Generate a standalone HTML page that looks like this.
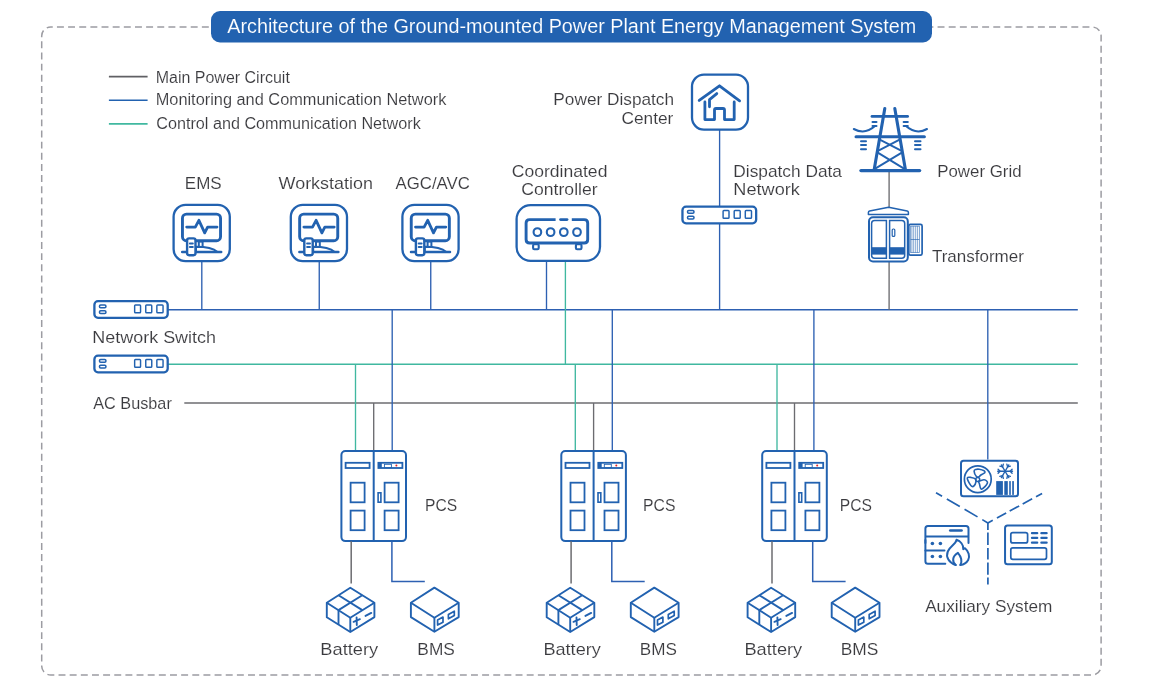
<!DOCTYPE html>
<html><head><meta charset="utf-8">
<style>
html,body{margin:0;padding:0;background:#fff;}
body{width:1169px;height:693px;overflow:hidden;}
svg{display:block;font-family:"Liberation Sans", sans-serif;will-change:transform;}
</style></head>
<body>
<svg width="1169" height="693" viewBox="0 0 1169 693">
<rect x="41.7" y="27" width="1059.4" height="648" rx="9" fill="none" stroke="#9c9ca2" stroke-width="1.5" stroke-dasharray="6.95 4.197" stroke-dashoffset="4.9"/>
<rect x="211" y="11" width="721" height="31.5" rx="9" fill="#2262b0"/>
<text class="t" x="227.25" y="32.80" font-size="20" fill="#ffffff" stroke="#2262b0" stroke-width="0.12" textLength="689.00" lengthAdjust="spacingAndGlyphs">Architecture of the Ground-mounted Power Plant Energy Management System</text>
<line x1="108.9" y1="76.6" x2="147.6" y2="76.6" stroke="#606064" stroke-width="1.6"/>
<line x1="108.9" y1="100.3" x2="147.6" y2="100.3" stroke="#2262b0" stroke-width="1.6"/>
<line x1="108.9" y1="123.9" x2="147.6" y2="123.9" stroke="#40b8a0" stroke-width="1.8"/>
<text class="t" x="155.70" y="82.70" font-size="15.8" fill="#3a3a3e" stroke="#ffffff" stroke-width="0.12" textLength="134.15" lengthAdjust="spacingAndGlyphs">Main Power Circuit</text>
<text class="t" x="155.70" y="105.10" font-size="15.8" fill="#3a3a3e" stroke="#ffffff" stroke-width="0.12" textLength="290.65" lengthAdjust="spacingAndGlyphs">Monitoring and Communication Network</text>
<text class="t" x="156.20" y="128.80" font-size="15.8" fill="#3a3a3e" stroke="#ffffff" stroke-width="0.12" textLength="264.60" lengthAdjust="spacingAndGlyphs">Control and Communication Network</text>
<line x1="168" y1="309.75" x2="1077.8" y2="309.75" stroke="#2d60b2" stroke-width="1.35"/>
<line x1="168" y1="364.2" x2="1077.8" y2="364.2" stroke="#40b8a0" stroke-width="1.35"/>
<line x1="184.3" y1="403.0" x2="1077.8" y2="403.0" stroke="#6c6c70" stroke-width="1.35"/>
<line x1="565.4" y1="261.7" x2="565.4" y2="364.2" stroke="#40b8a0" stroke-width="1.35"/>
<line x1="355.5" y1="364.2" x2="355.5" y2="450.5" stroke="#40b8a0" stroke-width="1.35"/>
<line x1="575.3" y1="364.2" x2="575.3" y2="450.5" stroke="#40b8a0" stroke-width="1.35"/>
<line x1="777" y1="364.2" x2="777" y2="450.5" stroke="#40b8a0" stroke-width="1.35"/>
<line x1="373.7" y1="403.0" x2="373.7" y2="450.5" stroke="#6c6c70" stroke-width="1.35"/>
<line x1="593.6" y1="403.0" x2="593.6" y2="450.5" stroke="#6c6c70" stroke-width="1.35"/>
<line x1="794.5" y1="403.0" x2="794.5" y2="450.5" stroke="#6c6c70" stroke-width="1.35"/>
<line x1="889.1" y1="170.7" x2="889.1" y2="207.5" stroke="#6c6c70" stroke-width="1.35"/>
<line x1="889.1" y1="262" x2="889.1" y2="309.75" stroke="#6c6c70" stroke-width="1.35"/>
<line x1="201.8" y1="261.5" x2="201.8" y2="309.75" stroke="#2d60b2" stroke-width="1.35"/>
<line x1="319.25" y1="261.5" x2="319.25" y2="309.75" stroke="#2d60b2" stroke-width="1.35"/>
<line x1="430.75" y1="261.5" x2="430.75" y2="309.75" stroke="#2d60b2" stroke-width="1.35"/>
<line x1="546.5" y1="261.7" x2="546.5" y2="309.75" stroke="#2d60b2" stroke-width="1.35"/>
<line x1="719.6" y1="130" x2="719.6" y2="309.75" stroke="#2d60b2" stroke-width="1.35"/>
<line x1="392.2" y1="309.75" x2="392.2" y2="450.5" stroke="#2d60b2" stroke-width="1.35"/>
<line x1="612.3" y1="309.75" x2="612.3" y2="450.5" stroke="#2d60b2" stroke-width="1.35"/>
<line x1="813.9" y1="309.75" x2="813.9" y2="450.5" stroke="#2d60b2" stroke-width="1.35"/>
<line x1="987.8" y1="309.75" x2="987.8" y2="459.5" stroke="#2d60b2" stroke-width="1.35"/>
<g transform="translate(0.0,0)"><rect x="173.6" y="204.8" width="56.2" height="56.4" rx="12" fill="#fff" stroke="#2262b0" stroke-width="2.3"/><rect x="182.45" y="214.15" width="38.1" height="26.6" rx="4" fill="none" stroke="#2262b0" stroke-width="2.9"/><polyline points="186.7,227.1 195.3,227.1 198.9,220.3 204.7,232.9 207.6,227.1 217,227.1" fill="none" stroke="#2262b0" stroke-width="2.8" stroke-linecap="round" stroke-linejoin="round"/><rect x="198.8" y="241.5" width="3.8" height="5.5" fill="none" stroke="#2262b0" stroke-width="2"/><path d="M196,246.8 C206,246.8 213,248 217.5,252 L196,252 Z" fill="none" stroke="#2262b0" stroke-width="2" stroke-linejoin="round"/><line x1="182.2" y1="252.1" x2="221.2" y2="252.1" stroke="#2262b0" stroke-width="2.5" stroke-linecap="round"/><rect x="187.1" y="238.4" width="8.4" height="16.8" rx="2" fill="#fff" stroke="#2262b0" stroke-width="2.4"/><line x1="189.9" y1="243.5" x2="192.8" y2="243.5" stroke="#2262b0" stroke-width="2" stroke-linecap="round"/><line x1="189.9" y1="247" x2="192.8" y2="247" stroke="#2262b0" stroke-width="2" stroke-linecap="round"/></g>
<g transform="translate(117.2,0)"><rect x="173.6" y="204.8" width="56.2" height="56.4" rx="12" fill="#fff" stroke="#2262b0" stroke-width="2.3"/><rect x="182.45" y="214.15" width="38.1" height="26.6" rx="4" fill="none" stroke="#2262b0" stroke-width="2.9"/><polyline points="186.7,227.1 195.3,227.1 198.9,220.3 204.7,232.9 207.6,227.1 217,227.1" fill="none" stroke="#2262b0" stroke-width="2.8" stroke-linecap="round" stroke-linejoin="round"/><rect x="198.8" y="241.5" width="3.8" height="5.5" fill="none" stroke="#2262b0" stroke-width="2"/><path d="M196,246.8 C206,246.8 213,248 217.5,252 L196,252 Z" fill="none" stroke="#2262b0" stroke-width="2" stroke-linejoin="round"/><line x1="182.2" y1="252.1" x2="221.2" y2="252.1" stroke="#2262b0" stroke-width="2.5" stroke-linecap="round"/><rect x="187.1" y="238.4" width="8.4" height="16.8" rx="2" fill="#fff" stroke="#2262b0" stroke-width="2.4"/><line x1="189.9" y1="243.5" x2="192.8" y2="243.5" stroke="#2262b0" stroke-width="2" stroke-linecap="round"/><line x1="189.9" y1="247" x2="192.8" y2="247" stroke="#2262b0" stroke-width="2" stroke-linecap="round"/></g>
<g transform="translate(228.8,0)"><rect x="173.6" y="204.8" width="56.2" height="56.4" rx="12" fill="#fff" stroke="#2262b0" stroke-width="2.3"/><rect x="182.45" y="214.15" width="38.1" height="26.6" rx="4" fill="none" stroke="#2262b0" stroke-width="2.9"/><polyline points="186.7,227.1 195.3,227.1 198.9,220.3 204.7,232.9 207.6,227.1 217,227.1" fill="none" stroke="#2262b0" stroke-width="2.8" stroke-linecap="round" stroke-linejoin="round"/><rect x="198.8" y="241.5" width="3.8" height="5.5" fill="none" stroke="#2262b0" stroke-width="2"/><path d="M196,246.8 C206,246.8 213,248 217.5,252 L196,252 Z" fill="none" stroke="#2262b0" stroke-width="2" stroke-linejoin="round"/><line x1="182.2" y1="252.1" x2="221.2" y2="252.1" stroke="#2262b0" stroke-width="2.5" stroke-linecap="round"/><rect x="187.1" y="238.4" width="8.4" height="16.8" rx="2" fill="#fff" stroke="#2262b0" stroke-width="2.4"/><line x1="189.9" y1="243.5" x2="192.8" y2="243.5" stroke="#2262b0" stroke-width="2" stroke-linecap="round"/><line x1="189.9" y1="247" x2="192.8" y2="247" stroke="#2262b0" stroke-width="2" stroke-linecap="round"/></g>
<text class="t" x="184.85" y="189.15" font-size="17" fill="#3a3a3e" stroke="#ffffff" stroke-width="0.12" textLength="36.80" lengthAdjust="spacingAndGlyphs">EMS</text>
<text class="t" x="278.55" y="189.15" font-size="17" fill="#3a3a3e" stroke="#ffffff" stroke-width="0.12" textLength="94.45" lengthAdjust="spacingAndGlyphs">Workstation</text>
<text class="t" x="395.60" y="189.15" font-size="17" fill="#3a3a3e" stroke="#ffffff" stroke-width="0.12" textLength="74.15" lengthAdjust="spacingAndGlyphs">AGC/AVC</text>
<rect x="516.6" y="205.1" width="83.4" height="55.8" rx="14" fill="#fff" stroke="#2262b0" stroke-width="2.3"/>
<path d="M555.6,219.6 L529.6,219.6 Q526.1,219.6 526.1,223.1 L526.1,239.5 Q526.1,243 529.6,243 L584.2,243 Q587.7,243 587.7,239.5 L587.7,223.1 Q587.7,219.6 584.2,219.6 L571.8,219.6" fill="none" stroke="#2262b0" stroke-width="2.9" stroke-linejoin="round"/>
<line x1="560.6" y1="219.6" x2="567" y2="219.6" stroke="#2262b0" stroke-width="2.9" stroke-linecap="round"/>
<rect x="533.6" y="228.2" width="7.6" height="7.8" rx="3.8" fill="none" stroke="#2262b0" stroke-width="2.1"/>
<rect x="546.8" y="228.2" width="7.6" height="7.8" rx="3.8" fill="none" stroke="#2262b0" stroke-width="2.1"/>
<rect x="560.0" y="228.2" width="7.6" height="7.8" rx="3.8" fill="none" stroke="#2262b0" stroke-width="2.1"/>
<rect x="573.2" y="228.2" width="7.6" height="7.8" rx="3.8" fill="none" stroke="#2262b0" stroke-width="2.1"/>
<rect x="533.1" y="244.2" width="5.6" height="5" rx="1.2" fill="#fff" stroke="#2262b0" stroke-width="2.1"/>
<rect x="575.9" y="244.2" width="5.6" height="5" rx="1.2" fill="#fff" stroke="#2262b0" stroke-width="2.1"/>
<text class="t" x="511.75" y="176.95" font-size="17" fill="#3a3a3e" stroke="#ffffff" stroke-width="0.12" textLength="95.65" lengthAdjust="spacingAndGlyphs">Coordinated</text>
<text class="t" x="521.30" y="194.75" font-size="17" fill="#3a3a3e" stroke="#ffffff" stroke-width="0.12" textLength="76.35" lengthAdjust="spacingAndGlyphs">Controller</text>
<rect x="692" y="74.6" width="56" height="55" rx="12" fill="#fff" stroke="#2262b0" stroke-width="2.3"/>
<polyline points="699.2,100.4 719.5,85.8 739.6,100.8" fill="none" stroke="#2262b0" stroke-width="2.8" stroke-linecap="round" stroke-linejoin="round"/>
<path d="M704.9,102 L704.9,119.6 L714.5,119.6 L714.5,110 Q714.5,108.5 716,108.5 L723,108.5 Q724.5,108.5 724.5,110 L724.5,119.6 L734.2,119.6 L734.2,102" fill="none" stroke="#2262b0" stroke-width="2.8" stroke-linecap="round" stroke-linejoin="round"/>
<polyline points="709.5,106.8 709.5,99.6 716.8,93.6" fill="none" stroke="#2262b0" stroke-width="2.8" stroke-linecap="round" stroke-linejoin="round"/>
<text class="t" x="553.35" y="104.95" font-size="17" fill="#3a3a3e" stroke="#ffffff" stroke-width="0.12" textLength="120.75" lengthAdjust="spacingAndGlyphs">Power Dispatch</text>
<text class="t" x="621.45" y="123.75" font-size="17" fill="#3a3a3e" stroke="#ffffff" stroke-width="0.12" textLength="51.90" lengthAdjust="spacingAndGlyphs">Center</text>
<g transform="translate(0.00,0.00)"><rect x="94.4" y="301.2" width="73.30" height="16.6" rx="3.6" fill="#fff" stroke="#2262b0" stroke-width="2.3"/><rect x="99.45" y="305" width="6.5" height="2.8" rx="1.2" fill="none" stroke="#2262b0" stroke-width="1.5"/><rect x="99.45" y="310.8" width="6.5" height="2.6" rx="1.2" fill="none" stroke="#2262b0" stroke-width="1.5"/><rect x="134.65" y="305.05" width="5.9" height="7.8" rx="0.8" fill="none" stroke="#2262b0" stroke-width="1.45"/><rect x="145.75" y="305.05" width="6.0" height="7.8" rx="0.8" fill="none" stroke="#2262b0" stroke-width="1.45"/><rect x="156.85" y="305.05" width="6.2" height="7.8" rx="0.8" fill="none" stroke="#2262b0" stroke-width="1.45"/></g>
<g transform="translate(0.00,54.50)"><rect x="94.4" y="301.2" width="73.30" height="16.6" rx="3.6" fill="#fff" stroke="#2262b0" stroke-width="2.3"/><rect x="99.45" y="305" width="6.5" height="2.8" rx="1.2" fill="none" stroke="#2262b0" stroke-width="1.5"/><rect x="99.45" y="310.8" width="6.5" height="2.6" rx="1.2" fill="none" stroke="#2262b0" stroke-width="1.5"/><rect x="134.65" y="305.05" width="5.9" height="7.8" rx="0.8" fill="none" stroke="#2262b0" stroke-width="1.45"/><rect x="145.75" y="305.05" width="6.0" height="7.8" rx="0.8" fill="none" stroke="#2262b0" stroke-width="1.45"/><rect x="156.85" y="305.05" width="6.2" height="7.8" rx="0.8" fill="none" stroke="#2262b0" stroke-width="1.45"/></g>
<g transform="translate(588.05,-94.50)"><rect x="94.4" y="301.2" width="73.70" height="16.6" rx="3.6" fill="#fff" stroke="#2262b0" stroke-width="2.3"/><rect x="99.45" y="305" width="6.5" height="2.8" rx="1.2" fill="none" stroke="#2262b0" stroke-width="1.5"/><rect x="99.45" y="310.8" width="6.5" height="2.6" rx="1.2" fill="none" stroke="#2262b0" stroke-width="1.5"/><rect x="135.05" y="305.05" width="5.9" height="7.8" rx="0.8" fill="none" stroke="#2262b0" stroke-width="1.45"/><rect x="146.15" y="305.05" width="6.0" height="7.8" rx="0.8" fill="none" stroke="#2262b0" stroke-width="1.45"/><rect x="157.25" y="305.05" width="6.2" height="7.8" rx="0.8" fill="none" stroke="#2262b0" stroke-width="1.45"/></g>
<text class="t" x="92.25" y="342.65" font-size="17" fill="#3a3a3e" stroke="#ffffff" stroke-width="0.12" textLength="123.80" lengthAdjust="spacingAndGlyphs">Network Switch</text>
<text class="t" x="93.25" y="409.05" font-size="17" fill="#3a3a3e" stroke="#ffffff" stroke-width="0.12" textLength="78.55" lengthAdjust="spacingAndGlyphs">AC Busbar</text>
<text class="t" x="733.35" y="176.65" font-size="17" fill="#3a3a3e" stroke="#ffffff" stroke-width="0.12" textLength="108.65" lengthAdjust="spacingAndGlyphs">Dispatch Data</text>
<text class="t" x="733.35" y="194.95" font-size="17" fill="#3a3a3e" stroke="#ffffff" stroke-width="0.12" textLength="66.50" lengthAdjust="spacingAndGlyphs">Network</text>
<g fill="none" stroke="#2262b0" stroke-linecap="round"><line x1="884.8" y1="108.5" x2="874.2" y2="169.5" stroke-width="3.1"/><line x1="894.8" y1="108.5" x2="905.4" y2="169.5" stroke-width="3.1"/><line x1="872" y1="116.4" x2="907.6" y2="116.4" stroke-width="2.8"/><line x1="856" y1="136.8" x2="924.4" y2="136.8" stroke-width="3"/><line x1="861" y1="170.6" x2="919.6" y2="170.6" stroke-width="3.4"/><line x1="879.8" y1="139.6" x2="901.6" y2="150.8" stroke-width="1.9"/><line x1="899.6" y1="139.6" x2="878" y2="150.8" stroke-width="1.9"/><line x1="877.8" y1="152.6" x2="903.6" y2="168.4" stroke-width="1.9"/><line x1="901.8" y1="152.6" x2="875.6" y2="168.4" stroke-width="1.9"/><line x1="872.5" y1="122" x2="876.5" y2="122" stroke-width="2"/><line x1="903.6" y1="122" x2="907.8" y2="122" stroke-width="2"/><line x1="872.5" y1="125.9" x2="876.5" y2="125.9" stroke-width="2"/><line x1="903.6" y1="125.9" x2="907.8" y2="125.9" stroke-width="2"/><line x1="861" y1="141.2" x2="866" y2="141.2" stroke-width="2"/><line x1="915" y1="141.2" x2="920.5" y2="141.2" stroke-width="2"/><line x1="861" y1="145.1" x2="866" y2="145.1" stroke-width="2"/><line x1="915" y1="145.1" x2="920.5" y2="145.1" stroke-width="2"/><line x1="861" y1="149.2" x2="866" y2="149.2" stroke-width="2"/><line x1="915" y1="149.2" x2="920.5" y2="149.2" stroke-width="2"/><path d="M853.8,129 Q865,135 875,126" stroke-width="2"/><path d="M906,126 Q916,135 927,129" stroke-width="2"/></g>
<text class="t" x="937.25" y="177.05" font-size="17" fill="#3a3a3e" stroke="#ffffff" stroke-width="0.12" textLength="84.30" lengthAdjust="spacingAndGlyphs">Power Grid</text>
<g stroke="#2262b0"><path d="M868.4,214.6 L868.4,212.4 Q868.4,211.3 869.6,211 L888.6,207.2 L907.2,211 Q908.4,211.3 908.4,212.4 L908.4,214.6 Z" fill="#fff" stroke-width="1.5" stroke-linejoin="round"/><rect x="869.0" y="217.3" width="38.8" height="44.2" rx="4" fill="#fff" stroke-width="2"/><path d="M871.6,247 L871.6,223.4 Q871.6,220.4 874.6,220.4 L886.4,220.4 L886.4,258.3 L874.6,258.3 Q871.6,258.3 871.6,255.3 Z" fill="none" stroke-width="1.5"/><path d="M889.6,258.3 L889.6,220.4 L901.7,220.4 Q904.7,220.4 904.7,223.4 L904.7,255.3 Q904.7,258.3 901.7,258.3 Z" fill="none" stroke-width="1.5"/><rect x="871.6" y="247.2" width="14.8" height="7.4" fill="#2262b0" stroke="none"/><rect x="889.6" y="247.2" width="15.1" height="7.4" fill="#2262b0" stroke="none"/><rect x="892.2" y="229" width="2.6" height="7.4" rx="1" fill="none" stroke-width="1.2"/><rect x="908.8" y="224.3" width="13.3" height="30.8" rx="1.6" fill="#fff" stroke-width="1.7"/><rect x="910.6" y="226.2" width="8.8" height="26.4" fill="none" stroke-width="0.8" stroke-opacity="0.7"/><line x1="911.9" y1="226.2" x2="911.9" y2="252.6" stroke-width="0.8" stroke-opacity="0.7"/><line x1="913.7" y1="226.2" x2="913.7" y2="252.6" stroke-width="0.8" stroke-opacity="0.7"/><line x1="915.7" y1="226.2" x2="915.7" y2="252.6" stroke-width="0.8" stroke-opacity="0.7"/><line x1="917.6" y1="226.2" x2="917.6" y2="252.6" stroke-width="0.8" stroke-opacity="0.7"/><line x1="910.6" y1="239.5" x2="919.4" y2="239.5" stroke-width="0.9" stroke-opacity="0.7"/></g>
<text class="t" x="931.90" y="261.95" font-size="17" fill="#3a3a3e" stroke="#ffffff" stroke-width="0.12" textLength="91.95" lengthAdjust="spacingAndGlyphs">Transformer</text>
<g transform="translate(0.0,0)"><rect x="341.4" y="451.0" width="64.6" height="90.1" rx="4" fill="#fff" stroke="#2262b0" stroke-width="2"/><line x1="373.7" y1="451" x2="373.7" y2="541.2" stroke="#2262b0" stroke-width="2"/><rect x="345.6" y="462.8" width="24" height="5.2" fill="none" stroke="#2262b0" stroke-width="1.8"/><rect x="378.4" y="462.8" width="24" height="5.2" fill="none" stroke="#2262b0" stroke-width="1.8"/><rect x="378.4" y="462.8" width="3.4" height="5.2" fill="#2262b0"/><rect x="384.4" y="464.3" width="7" height="3.4" fill="none" stroke="#2262b0" stroke-width="0.9"/><circle cx="396.4" cy="465.5" r="1" fill="#e52222"/><rect x="350.6" y="482.7" width="14" height="19.6" fill="none" stroke="#2262b0" stroke-width="1.8"/><rect x="350.6" y="510.6" width="14" height="19.6" fill="none" stroke="#2262b0" stroke-width="1.8"/><rect x="384.6" y="482.7" width="14" height="19.6" fill="none" stroke="#2262b0" stroke-width="1.8"/><rect x="384.6" y="510.6" width="14" height="19.6" fill="none" stroke="#2262b0" stroke-width="1.8"/><rect x="378.1" y="492.8" width="2.8" height="9.4" fill="none" stroke="#2262b0" stroke-width="1.6"/><line x1="351.2" y1="541.2" x2="351.2" y2="583.4" stroke="#6c6c70" stroke-width="1.5"/><polyline points="391.9,541.2 391.9,581.6 424.8,581.6" fill="none" stroke="#2d60b2" stroke-width="1.5"/><g fill="none" stroke="#2262b0" stroke-width="1.9" stroke-linejoin="round"><path d="M350.3,587.8 L374.4,602.7 L374.4,617.1 L350.3,632 L326.8,617.2 L326.8,602.7 Z"/><polyline points="326.8,602.7 350.3,617.7 374.4,602.7"/><line x1="350.3" y1="617.7" x2="350.3" y2="632"/><line x1="338.5" y1="595.2" x2="362.3" y2="610.1"/><line x1="362.3" y1="595.2" x2="338.5" y2="610.1"/><line x1="338.5" y1="610.1" x2="338.5" y2="624.6"/><line x1="356.6" y1="617.4" x2="356.8" y2="625" stroke-linecap="round"/><line x1="353.6" y1="621.8" x2="359.9" y2="619.2" stroke-linecap="round"/><line x1="365.5" y1="615.9" x2="371.3" y2="612.9" stroke-linecap="round"/></g><g fill="none" stroke="#2262b0" stroke-width="1.9" stroke-linejoin="round"><path d="M434.4,587.6 L458.7,602.7 L458.7,617.1 L434.4,631.8 L410.9,617.1 L410.9,602.7 Z"/><polyline points="410.9,602.7 434.4,617.7 458.7,602.7"/><line x1="434.4" y1="617.7" x2="434.4" y2="631.8"/><path d="M437.6,619.9 L443,617.1 L443,622.3 L437.6,625.1 Z" stroke-width="1.7"/><path d="M448.4,614.5 L454.3,611.2 L454.3,615.4 L448.4,618.8 Z" stroke-width="1.7"/></g></g>
<text class="t" x="425.05" y="510.75" font-size="17" fill="#3a3a3e" stroke="#ffffff" stroke-width="0.12" textLength="32.10" lengthAdjust="spacingAndGlyphs">PCS</text>
<text class="t" x="320.35" y="655.05" font-size="17" fill="#3a3a3e" stroke="#ffffff" stroke-width="0.12" textLength="57.85" lengthAdjust="spacingAndGlyphs">Battery</text>
<text class="t" x="417.35" y="655.05" font-size="17" fill="#3a3a3e" stroke="#ffffff" stroke-width="0.12" textLength="37.50" lengthAdjust="spacingAndGlyphs">BMS</text>
<g transform="translate(219.9,0)"><rect x="341.4" y="451.0" width="64.6" height="90.1" rx="4" fill="#fff" stroke="#2262b0" stroke-width="2"/><line x1="373.7" y1="451" x2="373.7" y2="541.2" stroke="#2262b0" stroke-width="2"/><rect x="345.6" y="462.8" width="24" height="5.2" fill="none" stroke="#2262b0" stroke-width="1.8"/><rect x="378.4" y="462.8" width="24" height="5.2" fill="none" stroke="#2262b0" stroke-width="1.8"/><rect x="378.4" y="462.8" width="3.4" height="5.2" fill="#2262b0"/><rect x="384.4" y="464.3" width="7" height="3.4" fill="none" stroke="#2262b0" stroke-width="0.9"/><circle cx="396.4" cy="465.5" r="1" fill="#e52222"/><rect x="350.6" y="482.7" width="14" height="19.6" fill="none" stroke="#2262b0" stroke-width="1.8"/><rect x="350.6" y="510.6" width="14" height="19.6" fill="none" stroke="#2262b0" stroke-width="1.8"/><rect x="384.6" y="482.7" width="14" height="19.6" fill="none" stroke="#2262b0" stroke-width="1.8"/><rect x="384.6" y="510.6" width="14" height="19.6" fill="none" stroke="#2262b0" stroke-width="1.8"/><rect x="378.1" y="492.8" width="2.8" height="9.4" fill="none" stroke="#2262b0" stroke-width="1.6"/><line x1="351.2" y1="541.2" x2="351.2" y2="583.4" stroke="#6c6c70" stroke-width="1.5"/><polyline points="391.9,541.2 391.9,581.6 424.8,581.6" fill="none" stroke="#2d60b2" stroke-width="1.5"/><g fill="none" stroke="#2262b0" stroke-width="1.9" stroke-linejoin="round"><path d="M350.3,587.8 L374.4,602.7 L374.4,617.1 L350.3,632 L326.8,617.2 L326.8,602.7 Z"/><polyline points="326.8,602.7 350.3,617.7 374.4,602.7"/><line x1="350.3" y1="617.7" x2="350.3" y2="632"/><line x1="338.5" y1="595.2" x2="362.3" y2="610.1"/><line x1="362.3" y1="595.2" x2="338.5" y2="610.1"/><line x1="338.5" y1="610.1" x2="338.5" y2="624.6"/><line x1="356.6" y1="617.4" x2="356.8" y2="625" stroke-linecap="round"/><line x1="353.6" y1="621.8" x2="359.9" y2="619.2" stroke-linecap="round"/><line x1="365.5" y1="615.9" x2="371.3" y2="612.9" stroke-linecap="round"/></g><g fill="none" stroke="#2262b0" stroke-width="1.9" stroke-linejoin="round"><path d="M434.4,587.6 L458.7,602.7 L458.7,617.1 L434.4,631.8 L410.9,617.1 L410.9,602.7 Z"/><polyline points="410.9,602.7 434.4,617.7 458.7,602.7"/><line x1="434.4" y1="617.7" x2="434.4" y2="631.8"/><path d="M437.6,619.9 L443,617.1 L443,622.3 L437.6,625.1 Z" stroke-width="1.7"/><path d="M448.4,614.5 L454.3,611.2 L454.3,615.4 L448.4,618.8 Z" stroke-width="1.7"/></g></g>
<text class="t" x="643.10" y="510.75" font-size="17" fill="#3a3a3e" stroke="#ffffff" stroke-width="0.12" textLength="32.30" lengthAdjust="spacingAndGlyphs">PCS</text>
<text class="t" x="543.40" y="655.05" font-size="17" fill="#3a3a3e" stroke="#ffffff" stroke-width="0.12" textLength="57.45" lengthAdjust="spacingAndGlyphs">Battery</text>
<text class="t" x="639.75" y="655.05" font-size="17" fill="#3a3a3e" stroke="#ffffff" stroke-width="0.12" textLength="37.05" lengthAdjust="spacingAndGlyphs">BMS</text>
<g transform="translate(420.8,0)"><rect x="341.4" y="451.0" width="64.6" height="90.1" rx="4" fill="#fff" stroke="#2262b0" stroke-width="2"/><line x1="373.7" y1="451" x2="373.7" y2="541.2" stroke="#2262b0" stroke-width="2"/><rect x="345.6" y="462.8" width="24" height="5.2" fill="none" stroke="#2262b0" stroke-width="1.8"/><rect x="378.4" y="462.8" width="24" height="5.2" fill="none" stroke="#2262b0" stroke-width="1.8"/><rect x="378.4" y="462.8" width="3.4" height="5.2" fill="#2262b0"/><rect x="384.4" y="464.3" width="7" height="3.4" fill="none" stroke="#2262b0" stroke-width="0.9"/><circle cx="396.4" cy="465.5" r="1" fill="#e52222"/><rect x="350.6" y="482.7" width="14" height="19.6" fill="none" stroke="#2262b0" stroke-width="1.8"/><rect x="350.6" y="510.6" width="14" height="19.6" fill="none" stroke="#2262b0" stroke-width="1.8"/><rect x="384.6" y="482.7" width="14" height="19.6" fill="none" stroke="#2262b0" stroke-width="1.8"/><rect x="384.6" y="510.6" width="14" height="19.6" fill="none" stroke="#2262b0" stroke-width="1.8"/><rect x="378.1" y="492.8" width="2.8" height="9.4" fill="none" stroke="#2262b0" stroke-width="1.6"/><line x1="351.2" y1="541.2" x2="351.2" y2="583.4" stroke="#6c6c70" stroke-width="1.5"/><polyline points="391.9,541.2 391.9,581.6 424.8,581.6" fill="none" stroke="#2d60b2" stroke-width="1.5"/><g fill="none" stroke="#2262b0" stroke-width="1.9" stroke-linejoin="round"><path d="M350.3,587.8 L374.4,602.7 L374.4,617.1 L350.3,632 L326.8,617.2 L326.8,602.7 Z"/><polyline points="326.8,602.7 350.3,617.7 374.4,602.7"/><line x1="350.3" y1="617.7" x2="350.3" y2="632"/><line x1="338.5" y1="595.2" x2="362.3" y2="610.1"/><line x1="362.3" y1="595.2" x2="338.5" y2="610.1"/><line x1="338.5" y1="610.1" x2="338.5" y2="624.6"/><line x1="356.6" y1="617.4" x2="356.8" y2="625" stroke-linecap="round"/><line x1="353.6" y1="621.8" x2="359.9" y2="619.2" stroke-linecap="round"/><line x1="365.5" y1="615.9" x2="371.3" y2="612.9" stroke-linecap="round"/></g><g fill="none" stroke="#2262b0" stroke-width="1.9" stroke-linejoin="round"><path d="M434.4,587.6 L458.7,602.7 L458.7,617.1 L434.4,631.8 L410.9,617.1 L410.9,602.7 Z"/><polyline points="410.9,602.7 434.4,617.7 458.7,602.7"/><line x1="434.4" y1="617.7" x2="434.4" y2="631.8"/><path d="M437.6,619.9 L443,617.1 L443,622.3 L437.6,625.1 Z" stroke-width="1.7"/><path d="M448.4,614.5 L454.3,611.2 L454.3,615.4 L448.4,618.8 Z" stroke-width="1.7"/></g></g>
<text class="t" x="839.75" y="510.75" font-size="17" fill="#3a3a3e" stroke="#ffffff" stroke-width="0.12" textLength="32.15" lengthAdjust="spacingAndGlyphs">PCS</text>
<text class="t" x="744.45" y="655.05" font-size="17" fill="#3a3a3e" stroke="#ffffff" stroke-width="0.12" textLength="57.80" lengthAdjust="spacingAndGlyphs">Battery</text>
<text class="t" x="840.75" y="655.05" font-size="17" fill="#3a3a3e" stroke="#ffffff" stroke-width="0.12" textLength="37.55" lengthAdjust="spacingAndGlyphs">BMS</text>
<g fill="none" stroke="#2262b0"><rect x="961" y="460.7" width="57" height="35.6" rx="2.5" fill="#fff" stroke-width="2"/><circle cx="977.8" cy="479.2" r="13.4" stroke-width="1.7"/><circle cx="977.7" cy="479.4" r="2" stroke-width="1.5"/><path d="M976.40,476.60 C975.60,475.65 974.18,472.30 974.10,471.10 C974.02,469.90 975.05,469.72 975.90,469.40 C976.75,469.08 977.83,468.97 979.20,469.20 C980.57,469.43 983.15,470.27 984.10,470.80 C985.05,471.33 985.08,471.90 984.90,472.40 C984.72,472.90 983.77,473.28 983.00,473.80 C982.23,474.32 980.98,475.00 980.30,475.50 C979.62,476.00 979.55,476.62 978.90,476.80 C978.25,476.98 977.20,477.55 976.40,476.60 Z" stroke-width="1.6" stroke-linejoin="round"/><path d="M975.30,478.80 C974.47,478.03 972.17,477.63 970.90,477.40 C969.63,477.17 968.28,477.13 967.70,477.40 C967.12,477.67 967.13,478.05 967.40,479.00 C967.67,479.95 968.57,481.87 969.30,483.10 C970.03,484.33 971.02,485.93 971.80,486.40 C972.58,486.87 973.32,486.63 974.00,485.90 C974.68,485.17 975.68,483.18 975.90,482.00 C976.12,480.82 976.13,479.57 975.30,478.80 Z" stroke-width="1.6" stroke-linejoin="round"/><path d="M980.30,480.70 C981.22,480.42 983.00,479.72 984.10,479.80 C985.20,479.88 986.35,480.65 986.90,481.20 C987.45,481.75 987.68,482.23 987.40,483.10 C987.12,483.97 986.17,485.38 985.20,486.40 C984.23,487.42 982.42,489.02 981.60,489.20 C980.78,489.38 980.67,488.42 980.30,487.50 C979.93,486.58 979.68,484.70 979.40,483.70 C979.12,482.70 978.45,482.00 978.60,481.50 C978.75,481.00 979.38,480.98 980.30,480.70 Z" stroke-width="1.6" stroke-linejoin="round"/><g stroke-width="1.35" stroke-linecap="round"><g transform="translate(1005.1,471.25) rotate(30)"><line x1="0" y1="0" x2="0" y2="-7.4"/><polyline points="-2,-7 0,-5 2,-7"/></g><g transform="translate(1005.1,471.25) rotate(90)"><line x1="0" y1="0" x2="0" y2="-7.4"/><polyline points="-2,-7 0,-5 2,-7"/></g><g transform="translate(1005.1,471.25) rotate(150)"><line x1="0" y1="0" x2="0" y2="-7.4"/><polyline points="-2,-7 0,-5 2,-7"/></g><g transform="translate(1005.1,471.25) rotate(210)"><line x1="0" y1="0" x2="0" y2="-7.4"/><polyline points="-2,-7 0,-5 2,-7"/></g><g transform="translate(1005.1,471.25) rotate(270)"><line x1="0" y1="0" x2="0" y2="-7.4"/><polyline points="-2,-7 0,-5 2,-7"/></g><g transform="translate(1005.1,471.25) rotate(330)"><line x1="0" y1="0" x2="0" y2="-7.4"/><polyline points="-2,-7 0,-5 2,-7"/></g></g><g fill="#2262b0" stroke="none"><rect x="996.2" y="481.1" width="6.7" height="13.8"/><rect x="1004.3" y="481.1" width="3.5" height="13.8"/><rect x="1009.2" y="481.1" width="1.6" height="13.8"/><rect x="1012.2" y="481.1" width="1.7" height="13.8"/></g><path d="M987.9,522.9 L935.4,492.4" stroke-width="1.7" stroke-dasharray="6.5 5.5 15 5.5 15 5.5 7 30"/><path d="M987.9,522.9 L1042.1,493.4" stroke-width="1.7" stroke-dasharray="5.5 4.8 10.5 4 10.8 4 10.8 4.4 7 30"/><path d="M987.9,522.9 L987.9,585" stroke-width="1.7" stroke-dasharray="7 2.7 12.5 2.9 11.5 2.9 12.3 2.9 7 30"/><path d="M925.4,543 L925.4,528.4 Q925.4,525.9 927.9,525.9 L966,525.9 Q968.5,525.9 968.5,528.4 L968.5,543.1" stroke-width="2" stroke-linecap="round"/><path d="M925.4,540 L925.4,561.2 Q925.4,563.7 927.9,563.7 L945.3,563.7" stroke-width="2" stroke-linecap="round"/><line x1="925.4" y1="536.6" x2="968.5" y2="536.6" stroke-width="2"/><line x1="925.4" y1="550.5" x2="944.5" y2="550.5" stroke-width="2" stroke-linecap="round"/><line x1="950.3" y1="530.5" x2="961.5" y2="530.5" stroke-width="2.7" stroke-linecap="round"/><g fill="#2262b0" stroke="none"><circle cx="932.4" cy="543.5" r="1.8"/><circle cx="940.4" cy="543.5" r="1.8"/><circle cx="932.4" cy="556.5" r="1.8"/><circle cx="940.4" cy="556.5" r="1.8"/></g><path d="M955.7,565 C949,563 945.5,557 947.8,551.5 C950,546 955.8,544.5 956.5,539.8 C960.5,541.2 963.5,545 963.3,549.2 L965,548.2 C968.5,551 970.2,556.5 968.2,560 C966.5,563 963.2,564.7 960.4,565" stroke-width="2" stroke-linejoin="round" stroke-linecap="round"/><path d="M955.7,565 C952.2,562 951.8,556.5 957.9,552.8 C960.2,555.5 963.2,559.5 960.4,565" stroke-width="2" stroke-linejoin="round" stroke-linecap="round"/><rect x="1005.05" y="525.4" width="46.75" height="38.8" rx="2.5" stroke-width="2"/><rect x="1010.8" y="532.6" width="16.8" height="10.3" rx="2" stroke-width="1.7"/><rect x="1010.8" y="547.8" width="35.7" height="11.5" rx="2" stroke-width="1.7"/><line x1="1032" y1="533.2" x2="1037.2" y2="533.2" stroke-width="2.3" stroke-linecap="round"/><line x1="1041.4" y1="533.2" x2="1046.6" y2="533.2" stroke-width="2.3" stroke-linecap="round"/><line x1="1032" y1="537.9" x2="1037.2" y2="537.9" stroke-width="2.3" stroke-linecap="round"/><line x1="1041.4" y1="537.9" x2="1046.6" y2="537.9" stroke-width="2.3" stroke-linecap="round"/><line x1="1032" y1="542.7" x2="1037.2" y2="542.7" stroke-width="2.3" stroke-linecap="round"/><line x1="1041.4" y1="542.7" x2="1046.6" y2="542.7" stroke-width="2.3" stroke-linecap="round"/></g>
<text class="t" x="925.15" y="612.05" font-size="17" fill="#3a3a3e" stroke="#ffffff" stroke-width="0.12" textLength="127.25" lengthAdjust="spacingAndGlyphs">Auxiliary System</text>
</svg>
</body></html>
